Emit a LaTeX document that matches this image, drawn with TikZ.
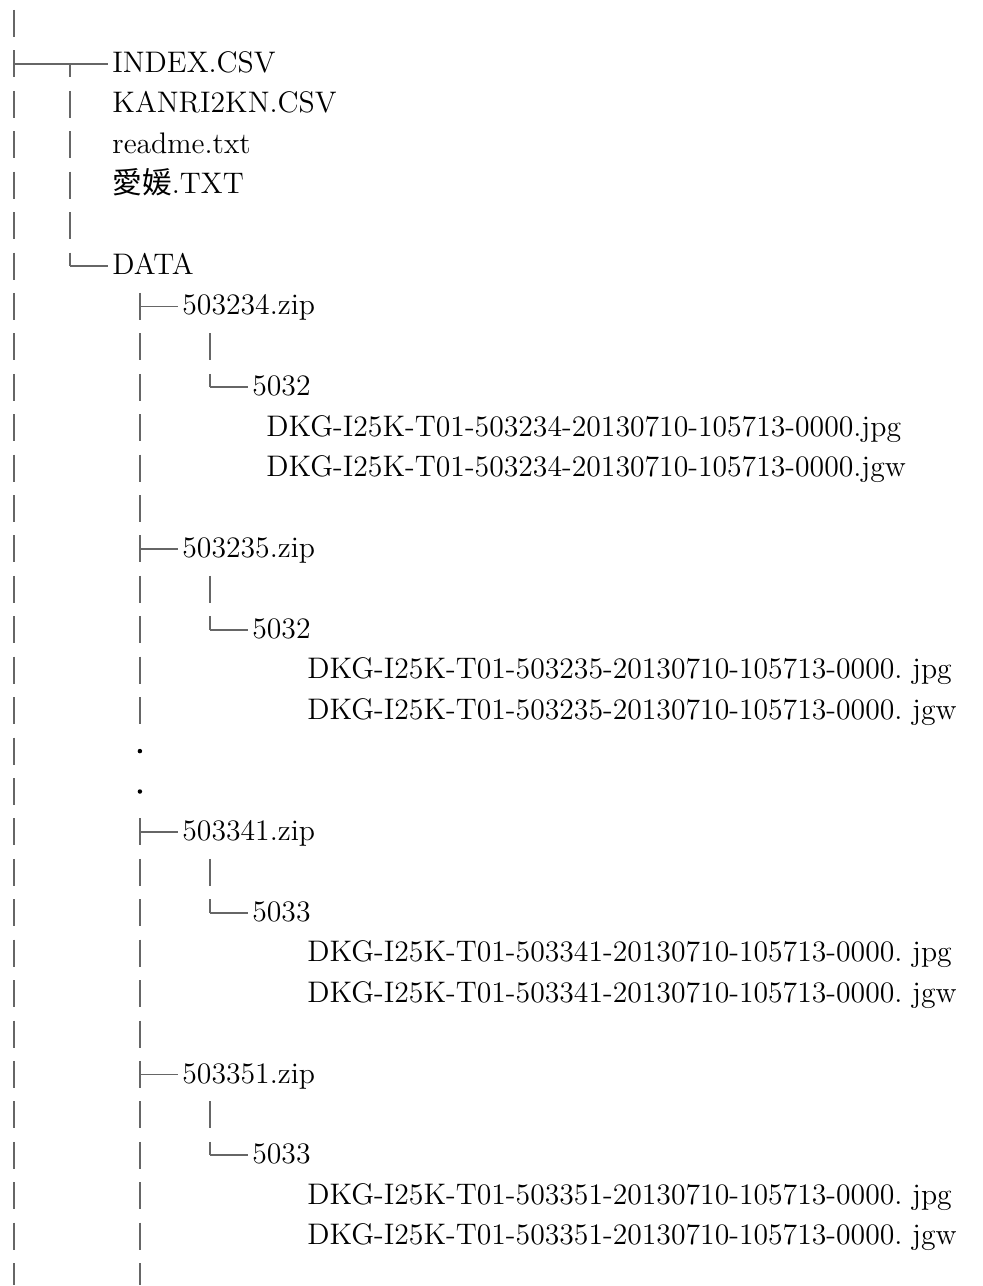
\documentclass[tikz,border=0pt]{standalone}
\usepackage{fontspec}
\newfontfamily\jpfont{Noto Sans CJK JP}
\usepackage{xcolor}
\usepackage{tikz}
\usetikzlibrary{positioning}

\definecolor{treegray}{gray}{0.4}

\begin{document}
\begin{tikzpicture}[
  x=0.4pt, y=-16.18pt,
  fname/.style={anchor=west, inner xsep=1.6pt, inner ysep=0pt, text height=0.683em, text depth=0pt, font=\fontsize{11.9}{14}\selectfont},
  vbar/.style={draw=treegray, line width=0.75pt, dash pattern=on 10.81pt off 5.37pt, dash phase=#1},
  vbar/.default=5.4pt,
  hbar/.style={draw=treegray, line width=0.75pt},
  dotmark/.style={circle, fill=black, inner sep=0pt, minimum size=1.8pt}
]
  \fill[white] (0,0.419) rectangle (983,32.21);

  % top level
  \node[fname] (index) at (108,2) {INDEX.CSV};
  \node[fname] (kanri) at (108,3) {KANRI2KN.CSV};
  \node[fname] (readme) at (108,4) {readme.txt};
  \node[fname] (ehime) at (108,5) {{\jpfont 愛媛}.TXT};
  \node[fname] (data) at (108,7) {DATA};

  \coordinate (rootTop) at (14,0.666);
  \coordinate (rootEnd) at (14,32.21);
  \coordinate (split) at (70,2);
  \draw[vbar=0pt] (rootTop) -- (rootEnd);
  \draw[hbar] (rootTop |- index.west) -- (index.west);
  \draw[vbar] (split) -- (split |- data.west);
  \draw[hbar] (split |- data.west) -- (data.west);

  % DATA
  \coordinate (trunk) at (140,7.666);
  \coordinate (gapTop) at (140,18.334);
  \coordinate (gapEnd) at (140,20.666);
  \coordinate (trunkEnd) at (140,32.21);
  \draw[vbar=0pt] (trunk) -- (gapTop);
  \draw[vbar=0pt] (gapEnd) -- (trunkEnd);
  \node[dotmark] (dotA) at (140,19) {};
  \node[dotmark] (dotB) at (140,20) {};

  \foreach \z/\zip/\dir/\dx/\ext [count=\g] in
    {8/503234/5032/262/{.}, 14/503235/5032/303/{.\ },
     21/503341/5033/303/{.\ }, 27/503351/5033/303/{.\ }} {
    \node[fname] (zip\g) at (178,\z) {\zip.zip};
    \node[fname] (dir\g) at (248,\z+2) {\dir};
    \node[fname] (jpg\g) at (\dx,\z+3) {DKG-I25K-T01-\zip-20130710-105713-0000\ext{}jpg};
    \node[fname] (jgw\g) at (\dx,\z+4) {DKG-I25K-T01-\zip-20130710-105713-0000\ext{}jgw};
    \coordinate (fork\g) at (210,\z+0.666);
    \draw[hbar] (trunk |- zip\g.west) -- (zip\g.west);
    \draw[vbar=0pt] (fork\g) -- (fork\g |- dir\g.west);
    \draw[hbar] (fork\g |- dir\g.west) -- (dir\g.west);
  }
\end{tikzpicture}
\end{document}
